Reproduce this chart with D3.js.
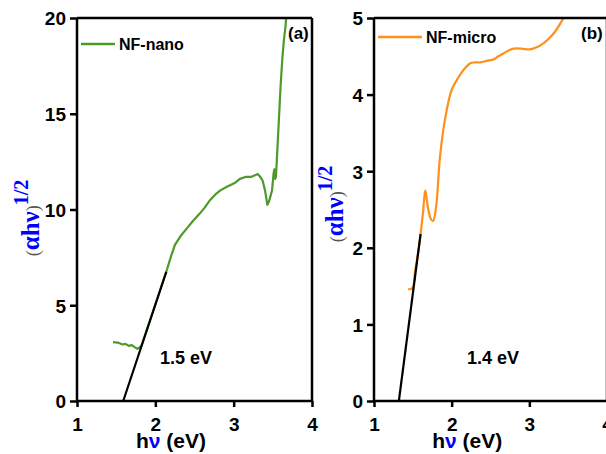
<!DOCTYPE html>
<html><head><meta charset="utf-8">
<script src="https://cdn.jsdelivr.net/npm/d3@7/dist/d3.min.js"></script>
<style>
html,body{margin:0;padding:0;background:#fff;}
svg{display:block;}
</style></head>
<body>
<script>
// ---- data ----
const nanoX = [1.46,1.52,1.58,1.62,1.66,1.70,1.74,1.77,1.82,1.90,1.98,2.06,2.14,2.20,2.25,2.32,2.40,2.48,2.57,2.63,2.70,2.77,2.83,2.92,3.02,3.08,3.15,3.22,3.28,3.31,3.34,3.37,3.40,3.42,3.43,3.45,3.47,3.49,3.51,3.52,3.53,3.54,3.55,3.57,3.60,3.62,3.64,3.66,3.67];
const nanoY = [3.07,3.05,2.95,2.98,2.88,2.92,2.80,2.72,2.86,3.82,4.79,5.77,6.75,7.55,8.15,8.6,9.0,9.4,9.8,10.1,10.5,10.8,11.0,11.2,11.4,11.6,11.7,11.7,11.8,11.85,11.7,11.5,11.0,10.5,10.25,10.4,10.7,11.0,11.9,12.1,11.6,11.7,12.5,14.1,16.5,17.8,18.8,19.5,20];
const nanoFitX = [1.59,2.14];
const nanoFitY = [0,6.75];

const microX = [1.44,1.47,1.50,1.53,1.57,1.60,1.63,1.66,1.69,1.73,1.76,1.80,1.85,1.92,2.00,2.09,2.16,2.24,2.30,2.37,2.45,2.54,2.60,2.67,2.74,2.80,2.90,3.01,3.10,3.18,3.26,3.33,3.40,3.44];
const microY = [1.46,1.46,1.48,1.70,1.95,2.18,2.45,2.75,2.55,2.38,2.35,2.54,3.19,3.71,4.06,4.23,4.33,4.41,4.42,4.42,4.44,4.46,4.50,4.54,4.58,4.60,4.60,4.59,4.62,4.67,4.74,4.82,4.93,5.0];
const microFitX = [1.32,1.60];
const microFitY = [0,2.18];

const xTicks = [1,2,3,4];
const yTicksA = [0,5,10,15,20];
const yTicksB = [0,1,2,3,4,5];

const svg = d3.select("body").append("svg").attr("width",606).attr("height",454);
const FONT = "'Liberation Sans', Arial, sans-serif";
const SERIF = "'Liberation Serif', 'Times New Roman', serif";

function panel(opt){
  const x = d3.scaleLinear().domain([1,4]).range([opt.x0, opt.x1]);
  const y = d3.scaleLinear().domain([0, opt.ymax]).range([401, 18]);
  const g = svg.append("g");

  const line = d3.line().x(d=>x(d[0])).y(d=>y(d[1])).curve(opt.curve);
  g.append("path").datum(opt.xs.map((v,i)=>[v,opt.ys[i]]))
    .attr("d",line).attr("fill","none").attr("stroke",opt.color).attr("stroke-width",2.2).attr("stroke-linejoin","round");
  g.append("path").datum(opt.fx.map((v,i)=>[v,opt.fy[i]]))
    .attr("d",d3.line().x(d=>x(d[0])).y(d=>y(d[1]))).attr("fill","none").attr("stroke","#000").attr("stroke-width",2.2);

  const xa = g.append("g").attr("transform","translate(0,401)")
    .call(d3.axisBottom(x).tickValues(xTicks).tickFormat(d3.format("d")).tickSize(6).tickPadding(6));
  const ya = g.append("g").attr("transform",`translate(${opt.x0},0)`)
    .call(d3.axisLeft(y).tickValues(opt.yt).tickFormat(d3.format("d")).tickSize(7).tickPadding(4));
  [xa,ya].forEach(a=>{
    a.select(".domain").attr("stroke-width",2.5).attr("d", a===xa ? `M${opt.x0},0H${opt.x1}` : `M0,401V18`);
    a.selectAll(".tick line").attr("stroke-width",2.5);
    a.selectAll("text").attr("font-family",FONT).attr("font-weight","bold").attr("font-size",19).attr("fill","#000");
  });
  xa.selectAll("text").attr("dy","0.95em");
  ya.selectAll("text").attr("dy","0.36em");
  g.append("line").attr("x1",opt.x0).attr("x2",opt.x1).attr("y1",18).attr("y2",18).attr("stroke","#000").attr("stroke-width",2.5);
  g.append("line").attr("x1",opt.x1).attr("x2",opt.x1).attr("y1",18).attr("y2",401).attr("stroke","#000").attr("stroke-width",2.5);

  g.append("line").attr("x1",opt.x0+4).attr("x2",opt.x0+opt.legLen).attr("y1",opt.legY).attr("y2",opt.legY)
    .attr("stroke",opt.color).attr("stroke-width",2.5);
  g.append("text").attr("x",opt.x0+opt.legLen+4).attr("y",opt.legY+6).text(opt.name)
    .attr("font-family",FONT).attr("font-weight","bold").attr("font-size",16);

  g.append("text").attr("x",opt.labX).attr("y",39).text(opt.lab)
    .attr("font-family",FONT).attr("font-weight","bold").attr("font-size",17);

  g.append("text").attr("x",opt.annX).attr("y",364).text(opt.ann)
    .attr("font-family",FONT).attr("font-weight","bold").attr("font-size",18);

  const xt = g.append("text").attr("x",(x(1.5)+x(2.9))/2).attr("y",448).attr("text-anchor","middle")
    .attr("font-family",FONT).attr("font-weight","bold").attr("font-size",21);
  xt.append("tspan").text("h");
  xt.append("tspan").text("ν").attr("fill","#0000ff");
  xt.append("tspan").text(" (eV)");

  const yt = g.append("text").attr("transform",`translate(${opt.ytX},${opt.ytY}) rotate(-90)`)
    .attr("text-anchor","middle").attr("font-family",SERIF);
  yt.append("tspan").text("(").attr("font-size",18).attr("fill","#555");
  yt.append("tspan").text("αhν").attr("font-size",25).attr("font-weight","bold").attr("fill","#0000ff");
  yt.append("tspan").text(")").attr("font-size",18).attr("fill","#555");
  yt.append("tspan").text("1/2").attr("font-size",20).attr("font-weight","bold").attr("fill","#0000ff").attr("dy",-11);
}

panel({x0:77,x1:312,ymax:20,yt:yTicksA,xs:nanoX,ys:nanoY,fx:nanoFitX,fy:nanoFitY,color:"#4d9a2a",
  curve:d3.curveLinear,name:"NF-nano",legY:44,legLen:38,lab:"(a)",labX:288,ann:"1.5 eV",annX:160,
  ytX:39,ytY:218});
panel({x0:374,x1:607,ymax:5,yt:yTicksB,xs:microX,ys:microY,fx:microFitX,fy:microFitY,color:"#ff9019",
  curve:d3.curveCatmullRom,name:"NF-micro",legY:37,legLen:48,lab:"(b)",labX:581,ann:"1.4 eV",annX:467,
  ytX:343,ytY:204});
</script>
</body></html>
